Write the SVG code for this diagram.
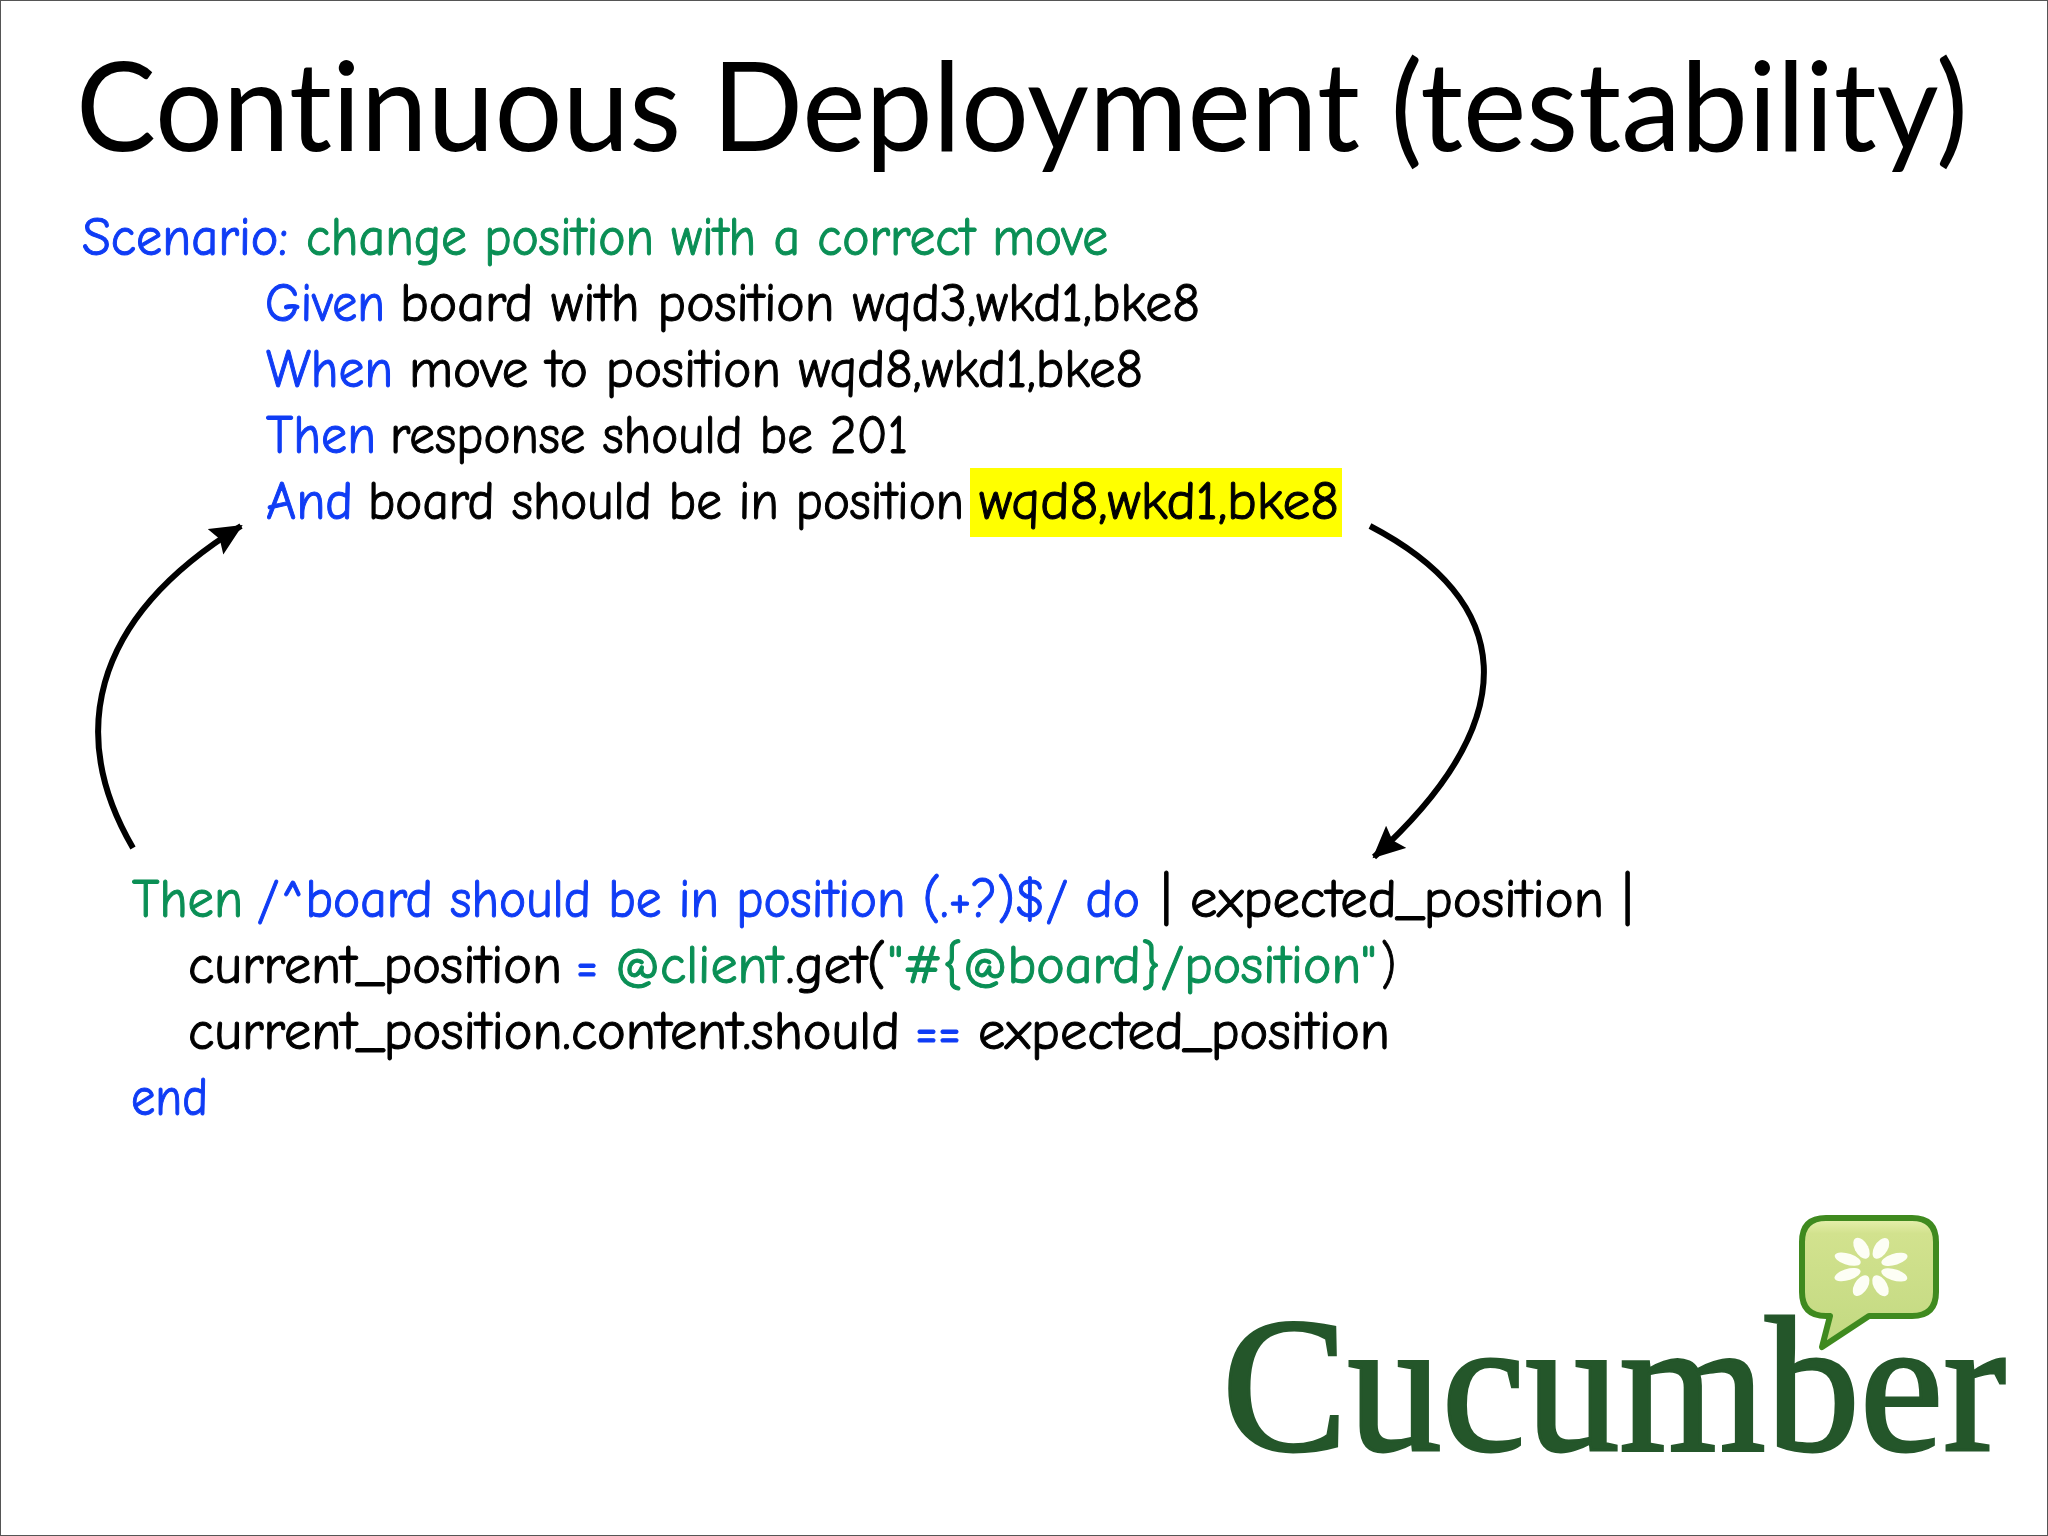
<svg xmlns="http://www.w3.org/2000/svg" width="2048" height="1536" viewBox="0 0 2048 1536">
<style>
.t text{font-family:"Comic Neue","Comic Sans MS","DejaVu Sans",sans-serif;font-size:54px;font-weight:400;font-variant-ligatures:none;fill:#000;stroke:#000;stroke-width:1}
.t .b{fill:#0f3cf5;stroke:#0f3cf5}.t .g{fill:#0a8f55;stroke:#0a8f55}
.c{fill:none;stroke:#000;stroke-width:6}
.p{fill:#fdfef5}
</style>
<defs>
<marker id="a" markerUnits="userSpaceOnUse" markerWidth="34" markerHeight="32" refX="30" refY="15" orient="auto"><path d="M0 0L32 15L0 30L5 15z"/></marker>
<linearGradient id="bub" x1="0" y1="0" x2="0" y2="1"><stop offset="0" stop-color="#e8f1b0"/><stop offset=".12" stop-color="#d2e28e"/><stop offset="1" stop-color="#c2d981"/></linearGradient>
</defs>
<rect width="2048" height="1536" fill="#fff"/>
<rect x="0.5" y="0.5" width="2047" height="1535" fill="none" stroke="#555"/>
<text id="title" x="76" y="151" font-family="Lato,sans-serif" font-size="124" style="font-variant-ligatures:none" textLength="1892" lengthAdjust="spacingAndGlyphs">Continuous Deployment (testability)</text>
<rect x="970" y="468" width="372" height="69" fill="#ff0"/>
<g class="t">
<text class="b" x="82" y="255" textLength="206" lengthAdjust="spacingAndGlyphs">Scenario:</text>
<text class="g" x="306" y="255" textLength="802" lengthAdjust="spacingAndGlyphs">change position with a correct move</text>
<text class="b" x="265" y="321" textLength="120" lengthAdjust="spacingAndGlyphs">Given</text>
<text x="400" y="321" textLength="800" lengthAdjust="spacingAndGlyphs">board with position wqd3,wkd1,bke8</text>
<text class="b" x="266" y="387" textLength="127" lengthAdjust="spacingAndGlyphs">When</text>
<text x="409" y="387" textLength="734" lengthAdjust="spacingAndGlyphs">move to position wqd8,wkd1,bke8</text>
<text class="b" x="266" y="453" textLength="110" lengthAdjust="spacingAndGlyphs">Then</text>
<text x="390" y="453" textLength="518" lengthAdjust="spacingAndGlyphs">response should be 201</text>
<text class="b" x="266" y="519" textLength="87" lengthAdjust="spacingAndGlyphs">And</text>
<text x="368" y="519" textLength="596" lengthAdjust="spacingAndGlyphs">board should be in position</text>
<text x="979" y="519" textLength="360" lengthAdjust="spacingAndGlyphs">wqd8,wkd1,bke8</text>
<text class="g" x="132" y="917" textLength="111" lengthAdjust="spacingAndGlyphs">Then</text>
<text class="b" x="257" y="917" textLength="883" lengthAdjust="spacingAndGlyphs">/^board should be in position (.+?)$/ do</text>
<text x="1161" y="917" textLength="472" lengthAdjust="spacingAndGlyphs">| expected_position |</text>
<text x="188" y="983" textLength="374" lengthAdjust="spacingAndGlyphs">current_position</text>
<text class="b" x="576" y="983" textLength="22" lengthAdjust="spacingAndGlyphs">=</text>
<text class="g" x="615" y="983" textLength="168" lengthAdjust="spacingAndGlyphs">@client</text>
<text x="786" y="983" textLength="100" lengthAdjust="spacingAndGlyphs">.get(</text>
<text class="g" x="888" y="983" textLength="488" lengthAdjust="spacingAndGlyphs">"#{@board}/position"</text>
<text x="1381" y="983" textLength="15" lengthAdjust="spacingAndGlyphs">)</text>
<text x="188" y="1049" textLength="712" lengthAdjust="spacingAndGlyphs">current_position.content.should</text>
<text class="b" x="915" y="1049" textLength="46" lengthAdjust="spacingAndGlyphs">==</text>
<text x="978" y="1049" textLength="412" lengthAdjust="spacingAndGlyphs">expected_position</text>
<text class="b" x="131" y="1115" textLength="77" lengthAdjust="spacingAndGlyphs">end</text>
</g>
<g id="connectors">
<path class="c" marker-end="url(#a)" d="M133 848C70 740 85 622 241 526"/>
<path class="c" marker-end="url(#a)" d="M1370 526C1512 600 1530 715 1374 857"/>
</g>
<g id="logo">
<text x="1222" y="1450" font-family="Liberation Serif,serif" font-size="192" fill="#24562a" stroke="#24562a" stroke-width="3" textLength="784" lengthAdjust="spacingAndGlyphs">Cucumber</text>
<path d="M1826 1218H1912Q1936 1218 1936 1242V1292Q1936 1316 1912 1316H1869L1822 1347L1830 1316H1826Q1802 1316 1802 1292V1242Q1802 1218 1826 1218Z" fill="url(#bub)" stroke="#3f8a1f" stroke-width="6" stroke-linejoin="round"/>
<g transform="translate(1871 1267) scale(1.15 .92)" class="p">
<ellipse cy="-22" rx="6" ry="12" transform="rotate(-22)"/>
<ellipse cy="-22" rx="6" ry="12" transform="rotate(23)"/>
<ellipse cy="-22" rx="6" ry="12" transform="rotate(68)"/>
<ellipse cy="-22" rx="6" ry="12" transform="rotate(113)"/>
<ellipse cy="-22" rx="6" ry="12" transform="rotate(158)"/>
<ellipse cy="-22" rx="6" ry="12" transform="rotate(203)"/>
<ellipse cy="-22" rx="6" ry="12" transform="rotate(248)"/>
<ellipse cy="-22" rx="6" ry="12" transform="rotate(293)"/>
</g>
</g>
</svg>
